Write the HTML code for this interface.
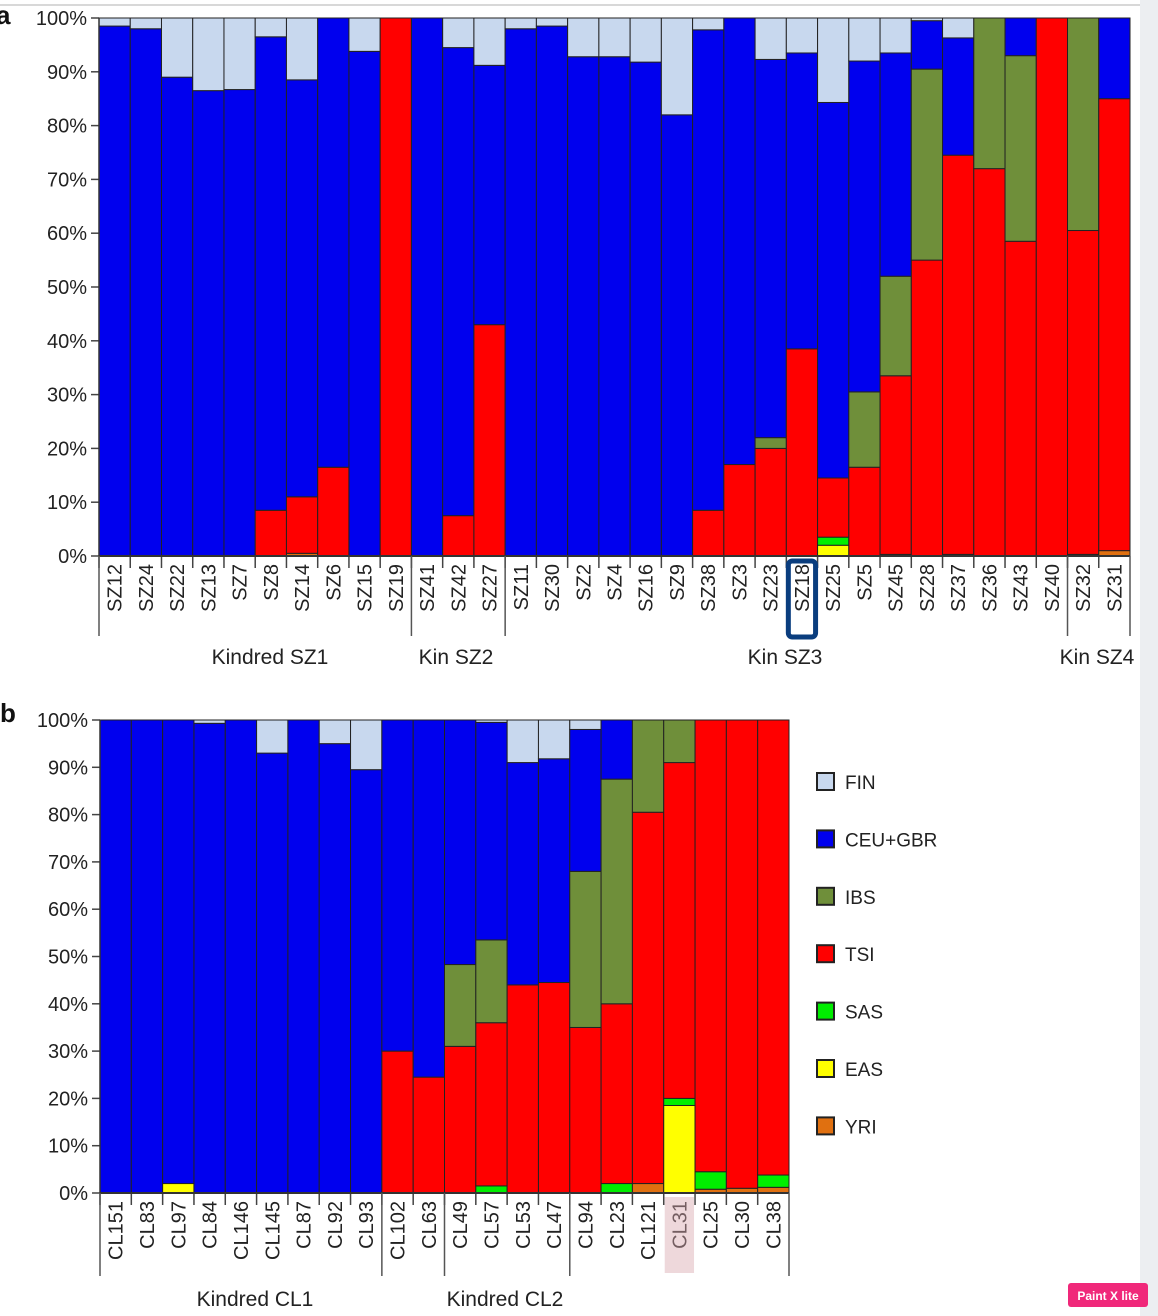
<!DOCTYPE html>
<html><head><meta charset="utf-8"><style>
html,body{margin:0;padding:0;background:#fff;}
svg{display:block;font-family:"Liberation Sans",Arial,sans-serif;}
</style></head><body>
<svg id="fig" width="1158" height="1316" viewBox="0 0 1158 1316" xmlns="http://www.w3.org/2000/svg">
<rect x="0" y="0" width="1158" height="1316" fill="#fff"/>
<rect x="1140" y="0" width="18" height="1316" fill="#eceef1"/>
<line x1="0" y1="5" x2="1140" y2="5" stroke="#d8d8d8" stroke-width="2"/>
<text x="-4" y="24" font-size="26" font-weight="bold" fill="#111">a</text>
<text x="0" y="722" font-size="26" font-weight="bold" fill="#111">b</text>
<g id="ga"></g>
<g id="gb"></g>
<g id="legend"></g>
<rect x="1068" y="1283" width="80" height="24" rx="3" fill="#f0287a"/>
<text x="1108" y="1300" font-size="12" font-weight="bold" fill="#fff" text-anchor="middle">Paint X lite</text>
</svg>
<script>
// component order bottom->top: YRI, EAS, SAS, TSI, IBS, CEU+GBR, FIN (FIN fills remainder)
const components = ["YRI","EAS","SAS","TSI","IBS","CEU+GBR","FIN"];
const colors = ["#e07010","#ffff00","#00ee00","#ff0000","#6f8f3a","#0000ee","#c8d8ee"];

const catsA = ["SZ12","SZ24","SZ22","SZ13","SZ7","SZ8","SZ14","SZ6","SZ15","SZ19","SZ41","SZ42","SZ27","SZ11","SZ30","SZ2","SZ4","SZ16","SZ9","SZ38","SZ3","SZ23","SZ18","SZ25","SZ5","SZ45","SZ28","SZ37","SZ36","SZ43","SZ40","SZ32","SZ31"];
const yriA = [0,0,0,0,0,0,0.5,0,0,0,0,0,0,0,0,0,0,0,0,0,0,0,0,0,0,0.3,0,0.3,0,0,0,0.3,1];
const easA = [0,0,0,0,0,0,0,0,0,0,0,0,0,0,0,0,0,0,0,0,0,0,0,2,0,0,0,0,0,0,0,0,0];
const sasA = [0,0,0,0,0,0,0,0,0,0,0,0,0,0,0,0,0,0,0,0,0,0,0,1.5,0,0,0,0,0,0,0,0,0];
const tsiA = [0,0,0,0,0,8.5,10.5,16.5,0,100,0,7.5,43,0,0,0,0,0,0,8.5,17,20,38.5,11,16.5,33.2,55,74.2,72,58.5,100,60.2,84];
const ibsA = [0,0,0,0,0,0,0,0,0,0,0,0,0,0,0,0,0,0,0,0,0,2,0,0,14,18.5,35.5,0,28,34.5,0,39.5,0];
const ceuA = [98.5,98,89,86.5,86.7,88,77.5,83.5,93.8,0,100,87,48.2,98,98.5,92.8,92.8,91.8,82,89.3,83,70.3,55,69.8,61.5,41.5,9,21.8,0,7,0,0,15];
const groupsA = [{label:"Kindred SZ1",from:0,to:9,cx:270},{label:"Kin SZ2",from:10,to:12,cx:456},{label:"Kin SZ3",from:13,to:30,cx:785},{label:"Kin SZ4",from:31,to:32,cx:1097}];

const catsB = ["CL151","CL83","CL97","CL84","CL146","CL145","CL87","CL92","CL93","CL102","CL63","CL49","CL57","CL53","CL47","CL94","CL23","CL121","CL31","CL25","CL30","CL38"];
const yriB = [0,0,0,0,0,0,0,0,0,0,0,0,0,0,0,0,0,2,0,0.8,1,1.2];
const easB = [0,0,2,0,0,0,0,0,0,0,0,0,0,0,0,0,0,0,18.5,0,0,0];
const sasB = [0,0,0,0,0,0,0,0,0,0,0,0,1.5,0,0,0,2,0,1.5,3.7,0,2.6];
const tsiB = [0,0,0,0,0,0,0,0,0,30,24.5,31,34.5,44,44.5,35,38,78.5,71,95.5,99,96.2];
const ibsB = [0,0,0,0,0,0,0,0,0,0,0,17.3,17.5,0,0,33,47.5,19.5,9,0,0,0];
const ceuB = [100,100,98,99.3,100,93,100,95,89.5,70,75.5,51.7,46,47,47.3,30,12.5,0,0,0,0,0];
const groupsB = [{label:"Kindred CL1",from:0,to:8,cx:255},{label:"Kindred CL2",from:9,to:21,cx:505}];

const yTicks = [0,10,20,30,40,50,60,70,80,90,100];
const NS = "http://www.w3.org/2000/svg";
function mk(parent, tag, attrs){const e=document.createElementNS(NS,tag);for(const k in attrs)e.setAttribute(k,attrs[k]);parent.appendChild(e);return e;}

function drawPanel(g, cats, series, groups, cfg){
  const n = cats.length, bw = (cfg.x1 - cfg.x0)/n;
  const yS = v => cfg.y0 - (cfg.y0 - cfg.y100) * v / 100;
  const xS = i => cfg.x0 + i*bw;
  // y axis
  yTicks.forEach(t=>{
    const y=yS(t);
    const tl=mk(g,"line",{x1:cfg.x0-8,x2:cfg.x0,y1:y,y2:y,stroke:"#444","stroke-width":1.5});
    
    
    const tx=mk(g,"text",{x:cfg.x0-12,y:y+7,"font-size":20,"text-anchor":"end",fill:"#222"});
    tx.textContent=t+"%";
    
    
  });
  // bars
  cats.forEach((c,i)=>{
    let acc=0;
    const vals=series.map(s=>s[i]);
    const sum=vals.reduce((a,b)=>a+b,0);
    const full=vals.concat([Math.max(0,100-sum)]);
    full.forEach((v,k)=>{
      if(v<=0)return;
      const r=mk(g,"rect",{x:xS(i),y:yS(acc+v),width:bw,height:yS(acc)-yS(acc+v),fill:colors[k],stroke:"#222","stroke-width":1});
      
      
      acc+=v;
    });
    // x tick
    const tk=mk(g,"line",{x1:xS(i),x2:xS(i),y1:cfg.y0,y2:cfg.y0+12,stroke:"#444","stroke-width":1.5});
    
    
    const cx=xS(i)+bw/2+7, ty=cfg.y0+8;
    const lab=mk(g,"text",{x:0,y:0,"font-size":20,"text-anchor":"end",fill:"#222",transform:`translate(${cx},${ty}) rotate(-90)`});
    lab.textContent=c;
    
    
  });
  // axes
  const ax=mk(g,"line",{x1:cfg.x0,x2:cfg.x1,y1:cfg.y0,y2:cfg.y0,stroke:"#333","stroke-width":2});
  
  
  const ay=mk(g,"line",{x1:cfg.x0,x2:cfg.x0,y1:cfg.y100,y2:cfg.y0,stroke:"#333","stroke-width":1.5});
  
  
  // group separators & labels
  const seps=new Set([0,n]);
  groups.forEach(gr=>{seps.add(gr.from);seps.add(gr.to+1);});
  (cfg.extraSeps||[]).forEach(s=>seps.add(s));
  seps.forEach(s=>{
    const l=mk(g,"line",{x1:xS(s),x2:xS(s),y1:cfg.y0,y2:cfg.sepEnd,stroke:"#555","stroke-width":1.5});
    
    
  });
  groups.forEach(gr=>{
    const t=mk(g,"text",{x:gr.cx,y:cfg.groupY,"font-size":21,"text-anchor":"middle",fill:"#222"});
    t.textContent=gr.label;
    
    
  });
  return {xS,bw,yS};
}

const ga=document.getElementById("ga");


const pa=drawPanel(ga,catsA,[yriA,easA,sasA,tsiA,ibsA,ceuA],groupsA,{x0:99,x1:1130,y0:556,y100:18,sepEnd:636,groupY:664});
// highlight box around SZ18
const hi=catsA.indexOf("SZ18");
const hb=mk(ga,"rect",{x:pa.xS(hi)+2,y:561,width:pa.bw-4,height:76,rx:4,fill:"none",stroke:"#0a3d7e","stroke-width":5});



const gb=document.getElementById("gb");


const pb=drawPanel(gb,catsB,[yriB,easB,sasB,tsiB,ibsB,ceuB],groupsB,{x0:100,x1:789,y0:1193,y100:720,sepEnd:1276,groupY:1306,extraSeps:[11,15]});
const ci=catsB.indexOf("CL31");
const hs=mk(gb,"rect",{x:pb.xS(ci)+1,y:1197,width:pb.bw-2,height:76,fill:"#d9a9b0",opacity:0.45});



// legend
const lg=document.getElementById("legend");


const legOrder=[6,5,4,3,2,1,0];
legOrder.forEach((k,j)=>{
  const y=782+j*57.4;
  const r=mk(lg,"rect",{x:817,y:y-9,width:17,height:17,fill:colors[k],stroke:"#222","stroke-width":2});
  
  
  const t=mk(lg,"text",{x:845,y:y+7,"font-size":19,fill:"#222"});
  t.textContent=components[k];
  
  
});
</script>
</body></html>
